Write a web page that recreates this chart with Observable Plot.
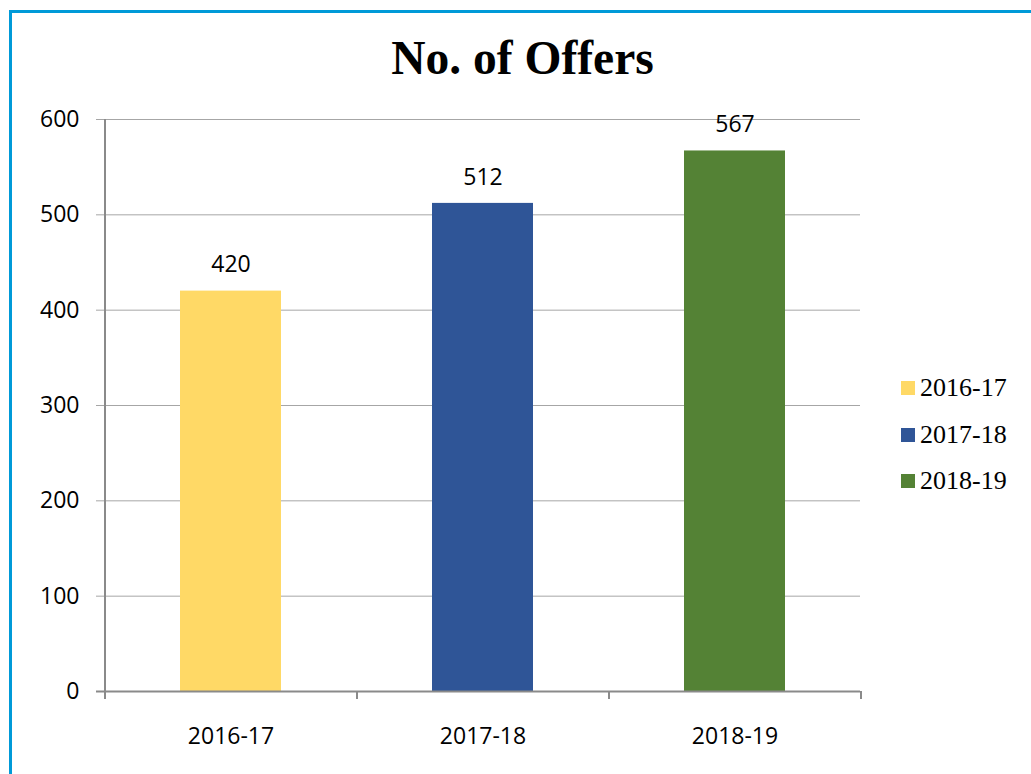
<!DOCTYPE html>
<html>
<head>
<meta charset="utf-8">
<script src="https://cdn.jsdelivr.net/npm/d3@7"></script>
<script src="https://cdn.jsdelivr.net/npm/@observablehq/plot@0.6"></script>
<style>
  body { margin: 0; background: #fff; }
  #wrap { position: relative; width: 1031px; height: 774px; overflow: hidden; background: #fff; }
  #border { position: absolute; left: 9px; top: 10px; width: 1200px; height: 1000px;
            border-left: 3px solid #009ad8; border-top: 3px solid #009ad8; }
  #title { position: absolute; left: 0; width: 1045px; top: 35px; text-align: center;
           font-family: "Liberation Serif", "Times New Roman", serif; font-weight: bold;
           font-size: 47.5px; line-height: 46px; color: #000; }
  #chart { position: absolute; left: 0; top: 0; }
  #legend { position: absolute; left: 901px; top: 365px;
            font-family: "Liberation Serif", "Times New Roman", serif; font-size: 26px; color: #000; }
  .item { display: flex; align-items: center; height: 46.5px; }
  .sw { width: 14px; height: 14px; margin-right: 5px; }
</style>
</head>
<body>
<div id="wrap">
  <div id="border"></div>
  <div id="chart"></div>
  <div id="title">No. of Offers</div>
  <div id="legend"></div>
</div>
<script>
const categories = ["2016-17", "2017-18", "2018-19"];
const offers = [420, 512, 567];
const colors = ["#FFD966", "#2F5597", "#548235"];
const yTicks = [0, 100, 200, 300, 400, 500, 600];
const chartTitle = "No. of Offers";

const data = categories.map((c, i) => ({year: c, offers: offers[i]}));
const lastCat = [categories[categories.length - 1]];

const axisGray = "#8a8a8a";
const gridGray = "#a6a6a6";
const labelFont = "Open Sans, Liberation Sans, sans-serif";

const chart = Plot.plot({
  width: 1031,
  height: 774,
  marginLeft: 104,
  marginRight: 171,
  marginTop: 119,
  marginBottom: 83,
  style: {fontFamily: labelFont, fontSize: "23px", color: "#000", background: "transparent", overflow: "visible"},
  x: {domain: categories, paddingInner: 0.6, paddingOuter: 0.3, axis: null},
  y: {domain: [0, 600], axis: null},
  color: {domain: categories, range: colors},
  marks: [
    Plot.ruleY(yTicks.filter(d => d > 0), {stroke: gridGray, strokeWidth: 1, insetLeft: -8}),
    Plot.barY(data, {x: "year", y: "offers", fill: "year"}),
    // category boundary ticks below the axis
    Plot.ruleX(categories, {x: d => d, y1: 0, y2: 0, dx: -126, insetBottom: -8, stroke: axisGray, strokeWidth: 2}),
    Plot.ruleX(lastCat, {x: d => d, y1: 0, y2: 0, dx: 126, insetBottom: -8, stroke: axisGray, strokeWidth: 2}),
    // vertical y axis line
    Plot.ruleX([categories[0]], {x: d => d, y1: 0, y2: 600, dx: -126, stroke: axisGray, strokeWidth: 2}),
    // x axis line
    Plot.ruleY([0], {stroke: axisGray, strokeWidth: 2, insetLeft: -8}),
    Plot.axisY(yTicks, {tickSize: 0, tickPadding: 25, fontSize: 23, fill: "#000", label: null}),
    Plot.axisX(categories, {tickSize: 0, tickPadding: 36, fontSize: 23, fill: "#000", label: null}),
    Plot.text(data, {x: "year", y: "offers", text: d => String(d.offers), dy: -26, fontSize: 23, fill: "#000"})
  ]
});
document.getElementById("chart").appendChild(chart);
document.getElementById("title").textContent = chartTitle;

const legend = document.getElementById("legend");
categories.forEach((c, i) => {
  const item = document.createElement("div");
  item.className = "item";
  const sw = document.createElement("div");
  sw.className = "sw";
  sw.style.background = colors[i];
  const t = document.createElement("span");
  t.textContent = c;
  item.appendChild(sw);
  item.appendChild(t);
  legend.appendChild(item);
});
</script>
</body>
</html>
